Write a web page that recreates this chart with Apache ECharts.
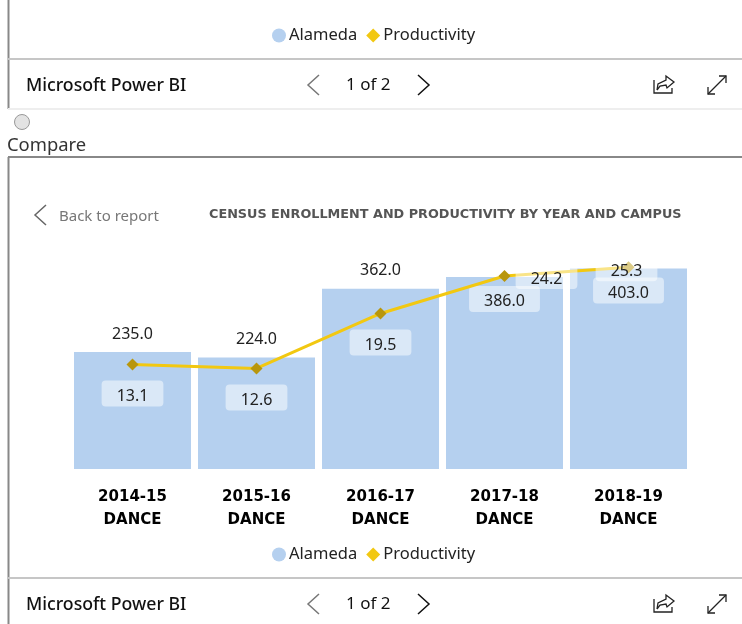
<!DOCTYPE html>
<html><head><meta charset="utf-8">
<style>html,body{margin:0;padding:0;background:#fff}#c{width:742px;height:624px}</style>
<script src="https://cdn.jsdelivr.net/npm/echarts@6/dist/echarts.min.js"></script>
</head><body><div id="c"></div>
<script>
const categories = ['2014-15\nDANCE','2015-16\nDANCE','2016-17\nDANCE','2017-18\nDANCE','2018-19\nDANCE'];
const alameda = [235, 224, 362, 386, 403];
const productivity = [13.1, 12.6, 19.5, 24.2, 25.3];

const UI = '"Noto Sans", sans-serif';
const chart = echarts.init(document.getElementById('c'), null, {renderer:'canvas'});
const boxed = {backgroundColor:'rgba(255,255,255,0.5)',borderRadius:4,padding:[8,15,2,15]};
const barLabel = (i)=> i<3 ? {show:true,position:'top',distance:10} :
   {show:true,position:'top',distance:-35,...boxed};
const lineLabel = (i)=> i<3 ? {show:true,position:'bottom',distance:10,...boxed} :
   (i===3 ? {show:true,position:'bottom',distance:-19,...boxed}
          : {show:true,position:'bottom',distance:-18,...boxed});
const hline=(x1,y,x2,color,w)=>({type:'line',shape:{x1,y1:y,x2,y2:y},style:{stroke:color,lineWidth:w},silent:true});
const vline=(x,y1,y2,color,w)=>({type:'line',shape:{x1:x,y1,x2:x,y2},style:{stroke:color,lineWidth:w},silent:true});
const txt=(x,y,text,size,fill,extra)=>({type:'text',x,y,style:Object.assign({text,fontSize:size,fontFamily:UI,fill,textVerticalAlign:'middle',verticalAlign:'middle'},extra||{}),silent:true});
const poly=(points,color,w)=>({type:'polyline',shape:{points},style:{stroke:color,lineWidth:w,fill:null},silent:true});
function toolbar(dy){
  return [
    txt(26,85.5+dy,'Microsoft Power BI',17.7,'#111',{fontWeight:500}),
    poly([[319,75+dy],[308,85+dy],[319,95+dy]],'#777',1.5),
    txt(346,85.5+dy,'1 of 2',17,'#111'),
    poly([[418,75+dy],[429,85+dy],[418,95+dy]],'#111',1.5),
    poly([[654,80+dy],[654,93+dy],[672,93+dy],[672,88+dy]],'#222',1.3),
    poly([[657,90+dy],[658,84+dy],[666,80+dy],[666,76+dy],[674,82+dy],[667,88+dy],[666,85+dy],[660,86+dy],[657,90+dy]],'#222',1.3),
    poly([[708,94+dy],[726,76+dy]],'#222',1.3),
    poly([[719,76+dy],[726,76+dy],[726,83+dy]],'#222',1.3),
    poly([[708,87+dy],[708,94+dy],[715,94+dy]],'#222',1.3)
  ];
}
const legendData=[{name:'Alameda',icon:'circle',itemStyle:{color:'#B5D0EF'}},{name:'Productivity',icon:'diamond',itemStyle:{color:'#F2C811'}}];
const legend=(top)=>({top,left:267,itemWidth:14,itemHeight:14,itemGap:9,data:legendData,selectedMode:false,
   textStyle:{fontFamily:UI,fontSize:16.5,color:'#222',padding:[0,0,0,-2]}});
chart.setOption({
  animation:false,
  backgroundColor:'#fff',
  title:{text:'CENSUS ENROLLMENT AND PRODUCTIVITY BY YEAR AND CAMPUS',left:204,top:203,
    textStyle:{fontFamily:'"DejaVu Sans"',fontSize:12.8,fontWeight:'bold',color:'#555'}},
  legend:[legend(22),legend(541)],
  grid:{left:70.5,top:260,width:620,height:209,containLabel:false},
  xAxis:{type:'category',data:categories,axisLine:{show:false},axisTick:{show:false},
    axisLabel:{fontFamily:'"DejaVu Sans"',fontWeight:'bold',fontSize:15,color:'#000',lineHeight:23,margin:17,interval:0}},
  yAxis:[{type:'value',min:0,max:420,show:false,splitLine:{show:false}},
         {type:'value',min:0,max:26.2,show:false,splitLine:{show:false}}],
  series:[
    {name:'Alameda',type:'bar',data:alameda.map((value,i)=>({value,label:barLabel(i)})),barWidth:117,
     itemStyle:{color:'#B5D0EF'},
     label:{show:true,formatter:p=>p.value.toFixed(1),fontFamily:UI,fontSize:16,color:'#222'}},
    {name:'Productivity',type:'line',yAxisIndex:1,data:productivity.map((value,i)=>({value,label:lineLabel(i)})),
     symbol:'diamond',symbolSize:12,showSymbol:true,
     lineStyle:{color:'#F2C811',width:3},itemStyle:{color:'#B8960C'},
     label:{show:true,formatter:p=>p.value.toFixed(1),fontFamily:UI,fontSize:16,color:'#222'},
     labelLayout:(p)=>p.dataIndex===3?{dx:42}:(p.dataIndex===4?{dx:-2}:{})}
  ],
  graphic:{elements:[
    vline(8.5,0,109,'#888',2),
    vline(8.5,157,624,'#888',2),
    hline(8,59,742,'#c6c6c6',2),
    hline(8,109,742,'#eeeeee',2),
    hline(8,157,742,'#888',2),
    hline(8,578,742,'#c6c6c6',2),
    ...toolbar(0),...toolbar(519),
    {type:'circle',shape:{cx:22,cy:122,r:7.5},style:{fill:'#e3e3e3',stroke:'#999',lineWidth:1},silent:true},
    txt(7,146,'Compare',18.4,'#333'),
    poly([[46,205],[35,215],[46,225]],'#666',1.5),
    txt(59,217,'Back to report',15,'#777')
  ]}
});
</script></body></html>
